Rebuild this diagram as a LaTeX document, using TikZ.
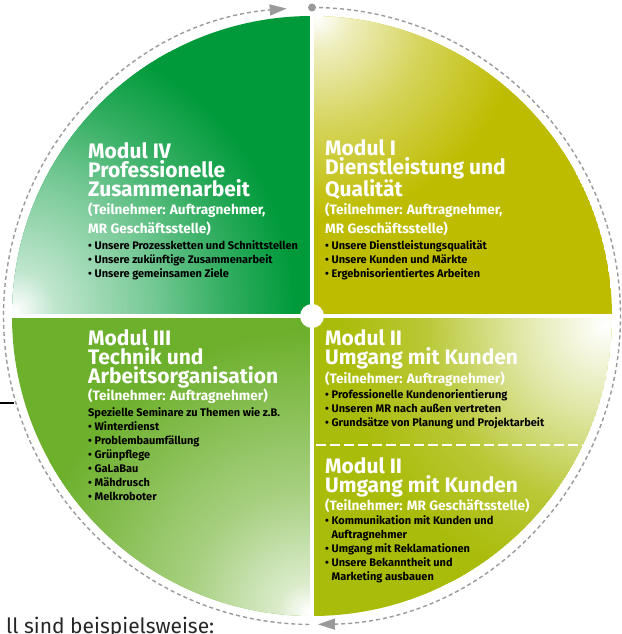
\documentclass[tikz,border=0pt]{standalone}
\usepackage{fontspec}
\setmainfont{Fira Sans}
\usetikzlibrary{arrows.meta}

\definecolor{modgreen}{HTML}{009A3A}
\definecolor{modolive}{HTML}{BEBC00}
\definecolor{modlime}{HTML}{6CB02C}
\definecolor{modyellow}{HTML}{AABC0A}
\definecolor{ringgray}{HTML}{9A9A9A}

\pgfdeclareradialshading{shadeIV}{\pgfpoint{0bp}{0bp}}{color(0bp)=(white); color(3.3bp)=(modgreen!25!white); color(11.7bp)=(modgreen!55!white); color(17.5bp)=(modgreen!80!white); color(23.3bp)=(modgreen); color(50bp)=(modgreen)}
\pgfdeclareradialshading{shadeI}{\pgfpoint{0bp}{0bp}}{color(0bp)=(white); color(2.5bp)=(modolive!25!white); color(9bp)=(modolive!65!white); color(16.7bp)=(modolive); color(50bp)=(modolive)}
\pgfdeclareradialshading{shadeIII}{\pgfpoint{0bp}{0bp}}{color(0bp)=(white); color(2.5bp)=(modlime!25!white); color(10bp)=(modlime!60!white); color(23.5bp)=(modlime); color(50bp)=(modlime)}
\pgfdeclareradialshading{shadeII}{\pgfpoint{0bp}{0bp}}{color(0bp)=(white); color(3bp)=(modyellow!15!white); color(7bp)=(modyellow!35!white); color(11bp)=(modyellow!58!white); color(15bp)=(modyellow!82!white); color(22bp)=(modyellow); color(50bp)=(modyellow)}

\newcommand{\modindent}{\hphantom{•\ }}

\begin{document}
\begin{tikzpicture}[x=1pt, y=1pt,
	modtitle/.style={anchor=base west, inner sep=0, align=left, text=white, font=\bfseries\fontsize{21}{19}\selectfont},
	modsub/.style={anchor=base west, inner sep=0, align=left, text=white, font=\bfseries\fontsize{13.6}{19}\selectfont},
	modlist/.style={anchor=base west, inner sep=0, align=left, text=black, font=\bfseries\fontsize{11}{14}\selectfont},
	ring/.style={ringgray, line width=1.4, dash pattern=on 4 off 3}]
	
	\clip (0,0) rectangle (621,634);
	\coordinate (c) at (312,318);
	
	% quadrants
	\begin{scope}
		\clip (c) -- ++(0,300) arc[start angle=90, end angle=180, radius=300] -- cycle;
		\fill[modgreen] (c) circle (300);
		\shade[shading=shadeIV] (15,324) circle (300);
	\end{scope}
	\begin{scope}
		\clip (c) -- ++(300,0) arc[start angle=0, end angle=90, radius=300] -- cycle;
		\fill[modolive] (c) circle (300);
		\shade[shading=shadeI] (318,616) circle (300);
	\end{scope}
	\begin{scope}
		\clip (c) -- ++(-300,0) arc[start angle=180, end angle=270, radius=300] -- cycle;
		\fill[modlime] (c) circle (300);
		\shade[shading=shadeIII] (308,22) circle (300);
	\end{scope}
	\begin{scope}
		\clip (c) -- ++(0,-300) arc[start angle=270, end angle=360, radius=300] -- cycle;
		\fill[modyellow] (c) circle (300);
		\shade[shading=shadeII] (605,309) circle (300);
	\end{scope}
	
	\draw[white, line width=4] (c) ++(-305,0) -- ++(610,0);
	\draw[white, line width=4] (c) ++(0,-305) -- ++(0,610);
	\fill[white] (c) circle (12);
	\draw[white, line width=2.5, dash pattern=on 10 off 4] (316,189) -- (583,189);
	
	% dashed ring
	\coordinate (top) at ([shift={(90:308.5)}]c);
	\draw[ring, -{Triangle[length=17pt, width=11pt]}] (top) arc[start angle=90, end angle=-88.9, radius=308.5];
	\draw[ring, -{Triangle[length=17pt, width=11pt]}] ([shift={(269.5:308.5)}]c) arc[start angle=269.5, end angle=94.7, radius=308.5];
	\fill[ringgray] (top) circle (4);
	
	% Modul IV
	\node[modtitle] (t4) at (88,437) {Modul IV\\Professionelle\\Zusammenarbeit};
	\node[modsub] (s4) at (88,400) {(Teilnehmer: Auftragnehmer,\\MR Geschäftsstelle)};
	\node[modlist] (l4) at (88,356.5) {• Unsere Prozessketten und Schnittstellen\\• Unsere zukünftige Zusammenarbeit\\• Unsere gemeinsamen Ziele};
	
	% Modul I
	\node[modtitle] (t1) at (325,437) {Modul I\\Dienstleistung und\\Qualität};
	\node[modsub] (s1) at (325,400) {(Teilnehmer: Auftragnehmer,\\MR Geschäftsstelle)};
	\node[modlist] (l1) at (325,356.5) {• Unsere Dienstleistungsqualität\\• Unsere Kunden und Märkte\\• Ergebnisorientiertes Arbeiten};
	
	% Modul III
	\node[modtitle] (t3) at (88,250) {Modul III\\Technik und\\Arbeitsorganisation};
	\node[modsub] (s3) at (88,233) {(Teilnehmer: Auftragnehmer)};
	\node[modlist] (l3) at (88,133.3) {Spezielle Seminare zu Themen wie z.B.\\• Winterdienst\\• Problembaumfällung\\• Grünpflege\\• GaLaBau\\• Mähdrusch\\• Melkroboter};
	
	% Modul II (Auftragnehmer)
	\node[modtitle] (t2a) at (325,269) {Modul II\\Umgang mit Kunden};
	\node[modsub] (s2a) at (325,250.7) {(Teilnehmer: Auftragnehmer)};
	\node[modlist] (l2a) at (325,207) {• Professionelle Kundenorientierung\\• Unseren MR nach außen vertreten\\• Grundsätze von Planung und Projektarbeit};
	
	% Modul II (Geschaeftsstelle)
	\node[modtitle] (t2b) at (325,141.7) {Modul II\\Umgang mit Kunden};
	\node[modsub] (s2b) at (325,123) {(Teilnehmer: MR Geschäftsstelle)};
	\node[modlist] (l2b) at (325,53) {• Kommunikation mit Kunden und\\\modindent Auftragnehmer\\• Umgang mit Reklamationen\\• Unsere Bekanntheit und\\\modindent Marketing ausbauen};
	
	% Rest der Seite
	\draw[line width=1.2] (0,231) -- (14,231);
	\node[anchor=base west, inner sep=0, text=black!85, font=\fontsize{21}{21}\selectfont] (rest) at (6,1) {ll sind beispielsweise:};
	
\end{tikzpicture}
\end{document}
